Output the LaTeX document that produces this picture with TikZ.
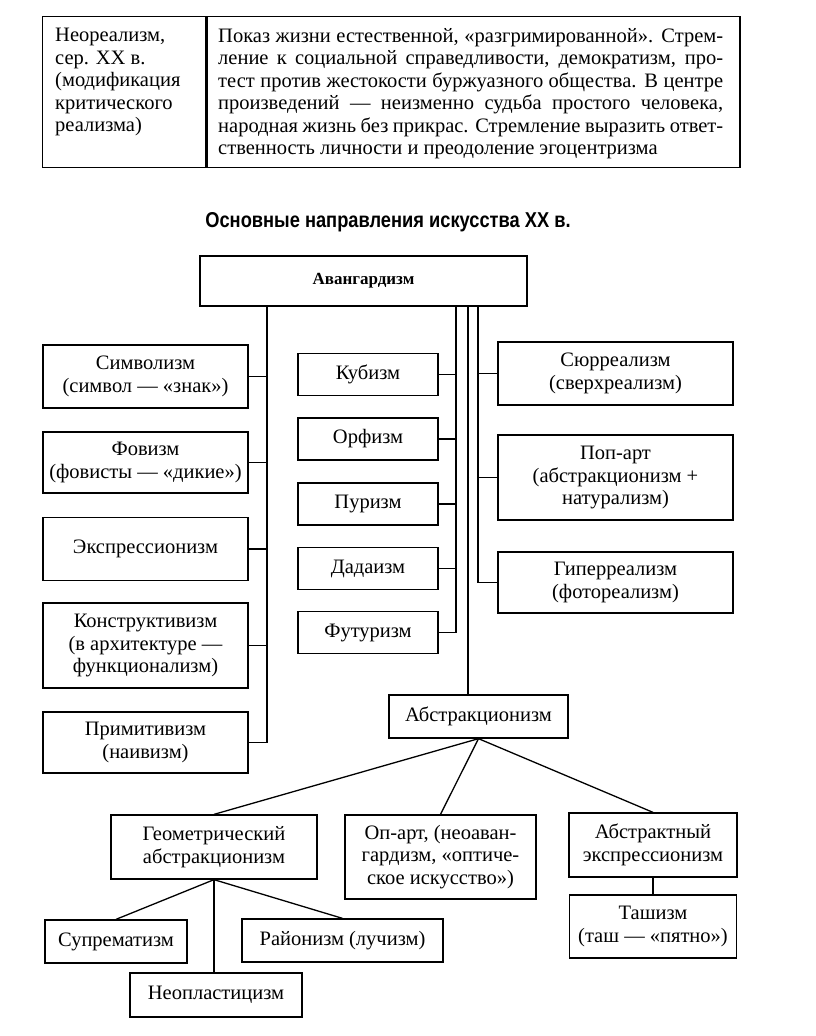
\documentclass[tikz,border=0pt]{standalone}
\usepackage{fontspec}
\setmainfont{Liberation Serif}
\newfontfamily\titlefont[FakeStretch=0.85]{Liberation Sans}
\usetikzlibrary{positioning}
\newcommand{\txt}{\fontsize{20.5}{22.5}\selectfont}
\tikzset{
  box/.style={draw, line width=1.3pt, align=center, inner sep=0pt},
  link/.style={line width=1.3pt},
}

\begin{document}
\begin{tikzpicture}[x=1pt,y=-1pt,font=\txt]
\useasboundingbox (0,0) rectangle (816,1036);
% table on top
\node[box, minimum width=163, minimum height=151, anchor=north west] (neoL) at (42,16) {};
\node[box, minimum width=533, minimum height=151, anchor=north west] (neoR) at (neoL.north east) {};
\node[anchor=north west, align=left, inner sep=0pt] (neoLt) at (55,28)
  {Неореализм,\\сер. XX в.\\(модификация\\критического\\реализма)};
\node[anchor=north west, align=left, inner sep=0pt] (neoRt) at (218,28)
  {\makebox[505pt][s]{Показ жизни естественной, «разгримированной». Стрем-}\\
   \makebox[505pt][s]{ление к социальной справедливости, демократизм, про-}\\
   \makebox[505pt][s]{тест против жестокости буржуазного общества. В центре}\\
   \makebox[505pt][s]{произведений — неизменно судьба простого человека,}\\
   \makebox[505pt][s]{народная жизнь без прикрас. Стремление выразить ответ-}\\
   ственность личности и преодоление эгоцентризма};
% title
\node[font=\titlefont\bfseries\fontsize{21.5}{24}\selectfont] (title) at (388,222)
  {Основные направления искусства XX в.};
\node[box, minimum width=327, minimum height=50, font=\bfseries\fontsize{17}{20}\selectfont] (avg) at (363.5,281) {Авангардизм};
% left column
\foreach \n/\y/\h/\t in {
    sym/376.5/63/{Символизм\\(символ — «знак»)},
    fov/462.5/61/{Фовизм\\(фовисты — «дикие»)},
    exp/549/63/{Экспрессионизм},
    kon/645.5/85/{Конструктивизм\\(в архитектуре —\\функционализм)},
    prim/742.5/61/{Примитивизм\\(наивизм)}}
  \node[box, minimum width=205, minimum height=\h] (\n) at (145.5,\y) {\t};
\coordinate (lbus) at (267,0);
\draw[link] (avg.south -| lbus) |- (prim.east);
\foreach \n in {sym,fov,exp,kon}
  \draw[link] (\n.east) -- (\n.east -| lbus);
% middle column
\foreach \n/\y/\t in {kub/374.5/Кубизм, orf/439/Орфизм, pur/504/Пуризм,
    dad/568.5/Дадаизм, fut/632.5/Футуризм}
  \node[box, minimum width=140, minimum height=42] (\n) at (368,\y) {\t};
\coordinate (mbus) at (456,0);
\draw[link] (avg.south -| mbus) |- (fut.east);
\foreach \n in {kub,orf,pur,dad}
  \draw[link] (\n.east) -- (\n.east -| mbus);
% right column
\foreach \n/\y/\h/\t in {
    sur/373.5/63/{Сюрреализм\\(сверхреализм)},
    pop/477.5/85/{Поп-арт\\(абстракционизм +\\натурализм)},
    hyp/582.5/61/{Гиперреализм\\(фотореализм)}}
  \node[box, minimum width=235, minimum height=\h] (\n) at (615.5,\y) {\t};
\coordinate (rbus) at (478,0);
\draw[link] (avg.south -| rbus) |- (hyp.west);
\foreach \n in {sur,pop}
  \draw[link] (\n.west) -- (\n.west -| rbus);
% abstractionism
\node[box, minimum width=179, minimum height=43] (abst) at (478.5,716.5) {Абстракционизм};
\coordinate (abus) at (468,0);
\draw[link] (avg.south -| abus) -- (abst.north -| abus);
\node[box, minimum width=206, minimum height=64] (geom) at (214,847) {Геометрический\\абстракционизм};
\node[box, minimum width=191, minimum height=84] (opart) at (440.5,857) {Оп-арт, (неоаван-\\гардизм, «оптиче-\\ское искусство»)};
\node[box, minimum width=168, minimum height=64] (abex) at (653,845) {Абстрактный\\экспрессионизм};
\node[box, minimum width=167, minimum height=63] (tash) at (653,926.5) {Ташизм\\(таш — «пятно»)};
\node[box, minimum width=142, minimum height=43] (supr) at (116,941.5) {Супрематизм};
\node[box, minimum width=201, minimum height=43] (rayon) at (342.5,940.5) {Районизм (лучизм)};
\node[box, minimum width=172, minimum height=44] (neopl) at (216,995) {Неопластицизм};
\foreach \n in {geom,opart,abex}
  \draw[link] (abst.south) -- (\n.north);
\draw[link] (abex.south) -- (tash.north);
\draw[link] (geom.south) -- (supr.north);
\draw[link] (geom.south) -- (rayon.north);
\draw[link] (geom.south) -- (geom.south |- neopl.north);
\end{tikzpicture}
\end{document}
